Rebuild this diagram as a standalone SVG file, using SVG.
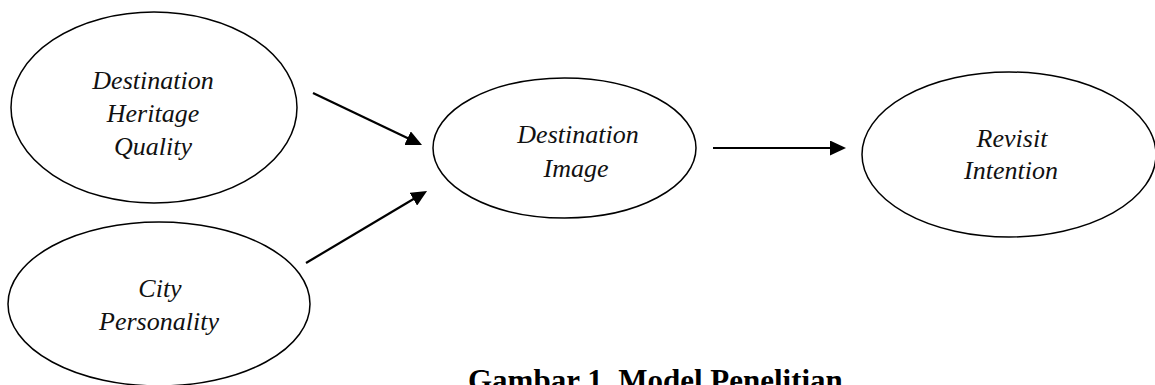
<svg xmlns="http://www.w3.org/2000/svg" width="1155" height="385" viewBox="0 0 1155 385">
<style>
.node ellipse{fill:#fff;stroke:#000;stroke-width:1.5}
.lbl{font-family:"Liberation Serif","Times New Roman",serif;font-style:italic;font-size:26px;fill:#111;text-anchor:middle}
.conn line{stroke:#000;stroke-width:2.2}
.cap{font-family:"Liberation Serif","Times New Roman",serif;font-weight:bold;font-size:31px;fill:#000}
</style>
<defs>
<marker id="ah" markerUnits="userSpaceOnUse" markerWidth="16" markerHeight="15" refX="12" refY="7.5" orient="auto">
<path d="M0,0 L16,7.5 L0,15 z" fill="#000"/>
</marker>
</defs>
<rect width="1155" height="385" fill="#fff"/>
<g id="n-dhq" class="node">
<ellipse cx="154" cy="107.5" rx="143" ry="95.5"/>
<text class="lbl" x="153" y="89">Destination</text>
<text class="lbl" x="153" y="122">Heritage</text>
<text class="lbl" x="153" y="155">Quality</text>
</g>
<g id="n-cp" class="node">
<ellipse cx="159" cy="304" rx="151" ry="82"/>
<text class="lbl" x="160" y="297">City</text>
<text class="lbl" x="159" y="330">Personality</text>
</g>
<g id="n-di" class="node">
<ellipse cx="564.5" cy="148" rx="131.5" ry="70"/>
<text class="lbl" x="578" y="143">Destination</text>
<text class="lbl" x="576" y="177">Image</text>
</g>
<g id="n-ri" class="node">
<ellipse cx="1009" cy="154.5" rx="147" ry="82.5"/>
<text class="lbl" x="1012" y="147">Revisit</text>
<text class="lbl" x="1011" y="179">Intention</text>
</g>
<g id="connectors" class="conn">
<line x1="313" y1="93" x2="418.4" y2="143.3" marker-end="url(#ah)"/>
<line x1="306" y1="263" x2="423.6" y2="193" marker-end="url(#ah)"/>
<line x1="713" y1="148" x2="842" y2="148" marker-end="url(#ah)"/>
</g>
<text class="cap" x="468" y="390.5">Gambar 1.  Model Penelitian</text>
</svg>
